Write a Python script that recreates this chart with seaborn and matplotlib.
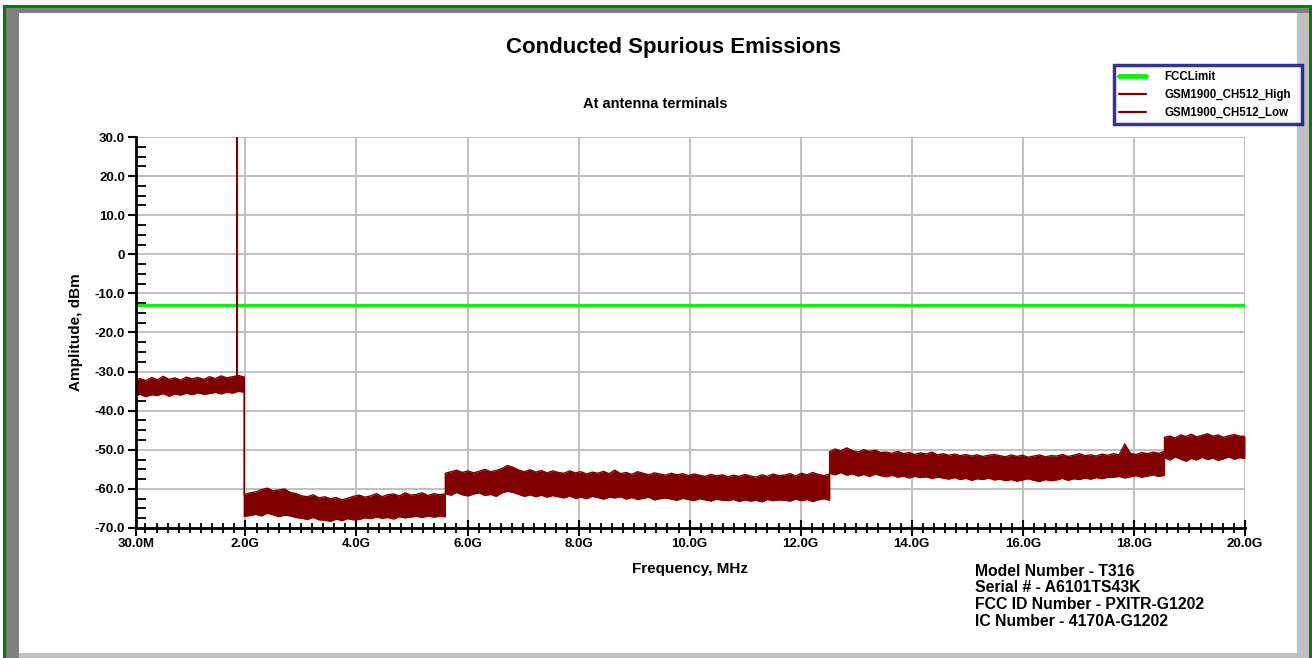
"""Conducted spurious emissions plot (GSM1900 CH512) recreated with seaborn."""

import matplotlib
matplotlib.use("Agg")

import matplotlib.pyplot as plt
import numpy as np
import pandas as pd
import seaborn as sns
from matplotlib.patches import Rectangle
from matplotlib.ticker import FixedLocator, MultipleLocator

sns.set_theme(style="white")
plt.rcParams["font.family"] = ["Liberation Sans", "DejaVu Sans"]
plt.rcParams["font.weight"] = "bold"
plt.rcParams["text.color"] = "black"
plt.rcParams["axes.labelcolor"] = "black"
plt.rcParams["xtick.color"] = "black"
plt.rcParams["ytick.color"] = "black"

# ---- data ----------------------------------------------------------------
# sweep segments (GHz): the analyser switches range at these edges
segment_edges_ghz = [0.0, 1.98, 5.60, 12.52, 18.55, 20.0]
segment_points = [20, 36, 69, 60, 16]

# upper envelope of the trace (dBm)
high_dbm = [
    # 0.0 - 1.98 GHz
    -32.0, -31.8, -32.3, -31.5, -32.1, -31.2, -32.0, -31.6, -32.2, -31.4,
    -31.9, -31.5, -32.0, -31.3, -31.8, -31.1, -31.6, -31.3, -31.0, -31.4,
    # 1.98 - 5.6 GHz
    -61.5, -61.0, -60.8, -60.2, -59.8, -60.5, -60.3, -60.0, -60.9, -61.2,
    -61.8, -62.0, -61.5, -62.3, -62.0, -62.5, -62.2, -62.8, -62.4, -61.9,
    -61.6, -62.1, -61.8, -61.2, -62.0, -61.5, -61.3, -61.8, -61.0, -61.6,
    -61.4, -61.0, -61.7, -61.2, -61.5, -61.3,
    # 5.6 - 12.5 GHz
    -56.0, -55.6, -55.2, -55.8, -55.4, -55.9, -55.5, -55.0, -55.6, -55.3,
    -54.8, -54.0, -54.5, -55.2, -55.6, -55.1, -55.7, -55.3, -55.9, -55.4,
    -55.8, -56.0, -55.4, -55.9, -55.6, -56.2, -55.7, -56.0, -55.5, -56.1,
    -55.2, -56.1, -55.8, -56.3, -55.6, -56.0, -56.4, -55.9, -56.2, -56.5,
    -56.0, -56.4, -56.1, -56.6, -56.2, -56.5, -56.8, -56.3, -56.7, -56.4,
    -56.9, -56.5, -56.8, -56.3, -56.7, -57.0, -56.4, -56.8, -56.2, -56.6,
    -56.5, -56.1, -56.7, -56.0, -56.4, -55.8, -56.3, -56.6, -56.2,
    # 12.5 - 18.5 GHz
    -50.5, -49.8, -50.3, -49.5, -50.2, -50.6, -50.0, -50.4, -50.1, -50.7,
    -50.6, -50.9, -50.4, -51.0, -50.7, -51.2, -50.8, -51.1, -50.6, -51.3,
    -51.0, -51.4, -51.1, -51.5, -51.2, -51.6, -51.3, -51.7, -51.4, -51.2,
    -51.5, -51.8, -51.3, -51.7, -51.4, -51.9, -51.6, -51.3, -51.8, -51.5,
    -51.6, -51.2, -51.7, -51.4, -51.0, -51.5, -51.3, -51.6, -51.1, -51.4,
    -51.0, -51.3, -48.5, -50.9, -51.2, -50.7, -51.0, -50.6, -50.9, -50.4,
    # 18.5 - 20.0 GHz
    -46.8, -46.5, -47.0, -46.2, -46.6, -46.0, -46.7, -46.3, -45.9, -46.5,
    -46.2, -46.8, -46.4, -46.1, -46.5, -46.6,
]

# lower envelope of the trace (dBm)
low_dbm = [
    # 0.0 - 1.98 GHz
    -36.2, -35.8, -36.4, -35.9, -36.1, -35.6, -36.3, -35.7, -36.0, -35.5,
    -35.9, -35.4, -35.8, -35.6, -35.3, -35.7, -35.2, -35.5, -35.0, -35.3,
    # 1.98 - 5.6 GHz
    -67.0, -66.8, -66.5, -66.9, -66.2, -66.6, -67.1, -66.7, -66.9, -67.3,
    -67.5, -67.8, -67.3, -67.9, -68.0, -68.3, -67.7, -68.1, -67.6, -67.9,
    -67.8, -67.4, -67.6, -67.2, -67.5, -67.3, -67.7, -67.1, -67.4, -67.2,
    -67.0, -67.3, -66.9, -67.2, -67.0, -67.1,
    # 5.6 - 12.5 GHz
    -61.2, -61.6, -60.9, -61.5, -61.8, -61.3, -61.0, -61.7, -61.4, -61.9,
    -61.0, -60.6, -60.9, -61.4, -61.9, -61.5, -62.0, -61.6, -62.1, -61.7,
    -62.0, -62.3, -61.8, -62.4, -62.1, -62.5, -61.9, -62.2, -62.6, -62.1,
    -62.3, -62.0, -62.6, -62.2, -62.7, -62.4, -62.1, -62.8, -62.5, -62.3,
    -62.6, -62.9, -62.4, -62.7, -63.0, -62.5, -62.8, -63.1, -62.6, -62.9,
    -63.0, -62.7, -63.2, -62.8, -63.1, -62.9, -63.3, -62.7, -63.0, -62.8,
    -62.9, -63.1, -62.6, -63.0, -62.7, -63.2, -62.8, -62.5, -62.9,
    # 12.5 - 18.5 GHz
    -56.0, -56.4, -55.8, -56.5, -56.1, -56.7, -56.3, -56.8, -56.2, -56.6,
    -56.9, -56.5, -57.0, -56.7, -57.2, -56.8, -57.1, -56.9, -57.3, -57.0,
    -57.2, -57.5, -57.1, -57.6, -57.3, -57.8, -57.4, -57.6, -57.2, -57.7,
    -57.5, -57.9, -57.6, -58.0, -57.7, -57.4, -57.8, -58.1, -57.6, -57.9,
    -57.7, -57.3, -57.8, -57.4, -57.6, -57.2, -57.5, -57.1, -57.4, -57.0,
    -57.0, -56.8, -57.2, -56.9, -56.6, -57.0, -56.7, -56.4, -56.8, -56.5,
    # 18.5 - 20.0 GHz
    -52.0, -52.6, -51.8, -52.4, -52.9, -52.2, -52.6, -51.9, -52.5, -52.1,
    -52.7, -52.3, -51.8, -52.4, -52.0, -52.2,
]

# carrier at CH512 (clipped at top of the plot)
carrier_freq_ghz = [1.85]
carrier_base_dbm = [-31.5]
carrier_peak_dbm = [31.0]

fcc_freq_ghz = [0.03, 20.0]
fcc_limit_dbm = [-13.0, -13.0]

x_tick_values = [0.03, 2.0, 4.0, 6.0, 8.0, 10.0, 12.0, 14.0, 16.0, 18.0, 20.0]
x_tick_labels = ["30.0M", "2.0G", "4.0G", "6.0G", "8.0G", "10.0G",
                 "12.0G", "14.0G", "16.0G", "18.0G", "20.0G"]
y_tick_values = [30, 20, 10, 0, -10, -20, -30, -40, -50, -60, -70]
y_tick_labels = ["30.0", "20.0", "10.0", "0", "-10.0", "-20.0", "-30.0",
                 "-40.0", "-50.0", "-60.0", "-70.0"]

info_lines = [
    "Model Number - T316",
    "Serial # - A6101TS43K",
    "FCC ID Number - PXITR-G1202",
    "IC Number - 4170A-G1202",
]

TRACE = "#800000"
LIMIT = "#11ee11"
GRID = "#c0c0c0"

seg_freqs = [np.linspace(a, b, n) for a, b, n in
             zip(segment_edges_ghz[:-1], segment_edges_ghz[1:], segment_points)]
trace = pd.DataFrame({
    "freq": np.concatenate(seg_freqs),
    "high": high_dbm,
    "low": low_dbm,
})

# ---- figure --------------------------------------------------------------
W, H = 1312, 658
fig = plt.figure(figsize=(W / 100, H / 100), dpi=100)
fig.patch.set_facecolor("white")


def px_rect(x0, y0, x1, y1, color, z=-5):
    fig.patches.append(Rectangle((x0 / W, 1 - y1 / H), (x1 - x0) / W, (y1 - y0) / H,
                                 transform=fig.transFigure, facecolor=color,
                                 edgecolor="none", zorder=z))


# window frame
px_rect(3, 5, 1312, 8, "green")
px_rect(3, 5, 6, 658, "green")
px_rect(1309, 5, 1312, 658, "green")
px_rect(6, 8, 1309, 13, "#808080")
px_rect(6, 8, 19, 658, "#808080")
px_rect(1297, 13, 1309, 658, "#c0c0c0")
px_rect(19, 653, 1297, 658, "#c0c0c0")

ax = fig.add_axes([136 / W, 1 - 528 / H, (1245 - 136) / W, (528 - 137) / H])
ax.set_facecolor("white")

sns.lineplot(x=fcc_freq_ghz, y=fcc_limit_dbm, color=LIMIT, linewidth=2.4,
             ax=ax, label="FCCLimit", zorder=3)
ax.fill_between(trace["freq"], trace["low"], trace["high"],
                color=TRACE, linewidth=0, zorder=4)
sns.lineplot(data=trace, x="freq", y="high", color=TRACE, linewidth=1.0,
             estimator=None, sort=False, ax=ax,
             label="GSM1900_CH512_High", zorder=5)
sns.lineplot(data=trace, x="freq", y="low", color=TRACE, linewidth=1.0,
             estimator=None, sort=False, ax=ax,
             label="GSM1900_CH512_Low", zorder=5)
ax.vlines(carrier_freq_ghz, carrier_base_dbm, carrier_peak_dbm,
          color=TRACE, linewidth=1.5, zorder=5)

ax.set_xlim(0.03, 20.0)
ax.set_ylim(-70, 30)

ax.xaxis.set_major_locator(FixedLocator(x_tick_values))
ax.set_xticklabels(x_tick_labels, fontsize=9.5, fontweight="bold")
ax.xaxis.set_minor_locator(MultipleLocator(0.2))
ax.yaxis.set_major_locator(FixedLocator(y_tick_values))
ax.set_yticklabels(y_tick_labels, fontsize=9.5, fontweight="bold")
ax.yaxis.set_minor_locator(MultipleLocator(2.5))

ax.tick_params(axis="x", which="major", direction="inout", length=12, width=1.5,
               color="black", pad=1)
ax.tick_params(axis="x", which="minor", direction="inout", length=7, width=1.3,
               color="black")
ax.tick_params(axis="y", which="major", direction="out", length=6, width=1.5,
               color="black", pad=2)
ax.tick_params(axis="y", which="minor", direction="in", length=7, width=1.3,
               color="black")
ax.tick_params(which="both", bottom=True, left=True)

ax.grid(True, which="major", color=GRID, linewidth=1.4)
ax.set_axisbelow(True)
for side in ("top", "right"):
    ax.spines[side].set_visible(False)
for side in ("left", "bottom"):
    ax.spines[side].set_color("black")
    ax.spines[side].set_linewidth(2.0)
    ax.spines[side].set_zorder(6)

ax.set_xlabel("Frequency, MHz", fontsize=11, fontweight="bold", labelpad=9)
ax.set_ylabel("Amplitude, dBm", fontsize=11, fontweight="bold", labelpad=8)

fig.text(674 / W, 1 - 47 / H, "Conducted Spurious Emissions", ha="center",
         va="center", fontsize=16, fontweight="bold")
fig.text(655 / W, 1 - 104 / H, "At antenna terminals", ha="center",
         va="center", fontsize=10.5, fontweight="bold")

for i, line in enumerate(info_lines):
    fig.text(975 / W, 1 - (571 + i * 16.7) / H, line, ha="left", va="center",
             fontsize=11.3, fontweight="bold")

handles, labels = ax.get_legend_handles_labels()
ax.get_legend().remove()
leg = fig.legend(handles, labels, loc="upper left",
                 bbox_to_anchor=(1114 / W, 1 - 72 / H, (1302 - 1114) / W, 0.01),
                 bbox_transform=fig.transFigure, mode="expand",
                 prop={"size": 8.3, "weight": "bold"}, frameon=True,
                 fancybox=False, handlelength=2.3, handletextpad=1.6,
                 borderpad=0.45, labelspacing=0.55, borderaxespad=0)
leg.get_frame().set_edgecolor("#000080")
leg.get_frame().set_linewidth(2.5)
for h in leg.get_lines():
    h.set_linewidth(3.5 if h.get_color() == LIMIT else 1.6)

fig.savefig("out.png", dpi=100)
